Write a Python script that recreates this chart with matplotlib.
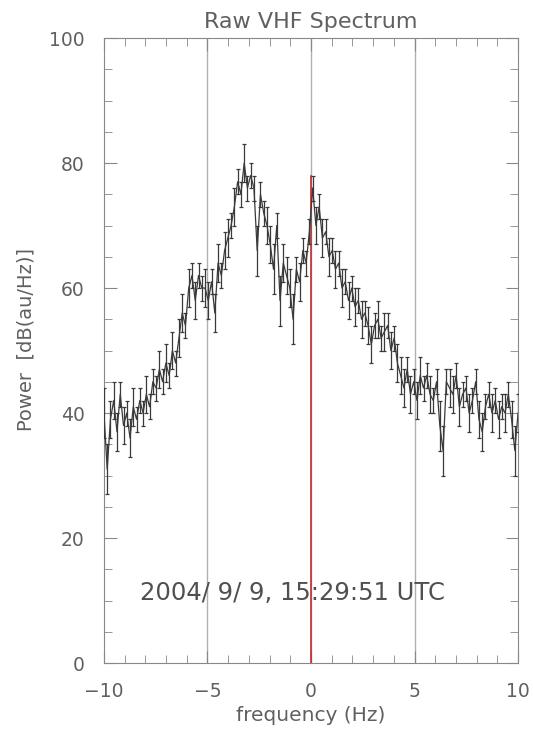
import numpy as np
import matplotlib
matplotlib.use('Agg')
import matplotlib.pyplot as plt

# spectrum values (128 bins, -10..10 Hz)
power = [40, 31, 39, 42, 37, 43, 38, 40,
         36, 41, 39, 42, 40, 43, 41, 45,
         44, 47, 45, 48, 46, 50, 48, 52,
         56, 54, 60, 62, 58, 62, 60, 60,
         58, 61, 56, 64, 62, 66, 68, 70,
         73, 77, 75, 80, 76, 78, 76, 66,
         75, 72, 70, 67, 63, 70, 58, 64,
         62, 60, 55, 63, 61, 66, 64, 69,
         76, 70, 73, 68, 69, 65, 66, 63,
         64, 60, 61, 58, 60, 57, 58, 55,
         56, 54, 51, 54, 55, 52, 53, 54,
         50, 52, 48, 46, 44, 47, 43, 45,
         42, 46, 44, 46, 43, 42, 45, 38,
         34, 45, 44, 43, 46, 41, 43, 44,
         40, 42, 45, 39, 37, 41, 43, 40,
         42, 39, 41, 40, 43, 39, 34, 40]
err = [4, 4, 3, 3, 3, 2, 3, 2,
       3, 3, 2, 2, 2, 3, 2, 2,
       2, 3, 2, 3, 2, 3, 2, 3,
       3, 2, 3, 2, 3, 2, 2, 3,
       3, 2, 3, 3, 2, 3, 3, 2,
       3, 2, 2, 3, 2, 2, 2, 4,
       2, 2, 3, 3, 4, 2, 4, 3,
       3, 3, 4, 2, 3, 2, 2, 2,
       2, 3, 2, 3, 2, 3, 2, 3,
       2, 3, 2, 3, 2, 3, 2, 3,
       2, 3, 3, 2, 3, 2, 3, 2,
       3, 2, 3, 3, 3, 2, 3, 2,
       3, 3, 2, 2, 3, 2, 2, 4,
       4, 2, 3, 3, 2, 3, 2, 2,
       3, 2, 2, 3, 3, 2, 2, 3,
       2, 3, 2, 3, 2, 3, 4, 3]
freq = np.linspace(-10, 10, len(power))

peak_line = 78
stamp = '2004/ 9/ 9, 15:29:51 UTC'

grey = '#606060'
plt.rcParams['font.family'] = ['DejaVu Sans']

fig = plt.figure(figsize=(5.33, 7.31), dpi=100)
ax = fig.add_axes([0.195, 0.093, 0.777, 0.855])

for xv in [-5, 0, 5]:
    ax.axvline(xv, color='#b0b0b0', lw=1, zorder=1)
ax.plot([0, 0], [0, peak_line], color='#c03030', lw=1.2, zorder=2)

ax.errorbar(freq, power, yerr=err, color='#3a3a3a', lw=0.9,
            elinewidth=0.9, capsize=1.5, capthick=0.9, zorder=3)

ax.set_xlim(-10, 10)
ax.set_ylim(0, 100)
ax.set_xticks([-10, -5, 0, 5, 10])
ax.set_xticklabels(['\u221210', '\u22125', '0', '5', '10'])
ax.set_yticks([0, 20, 40, 60, 80, 100])
ax.set_xticks(np.arange(-10, 11, 1), minor=True)
ax.set_yticks(np.arange(0, 101, 5), minor=True)
ax.tick_params(which='both', direction='in', top=True, right=True,
               color='#888888', labelcolor=grey, labelsize=13.5, pad=14)
ax.tick_params(which='major', length=9)
ax.tick_params(which='minor', length=6)
for s in ax.spines.values():
    s.set_color('#888888')

ax.set_title('Raw VHF Spectrum', color=grey, fontsize=16, pad=7)
ax.set_xlabel('frequency (Hz)', color=grey, fontsize=14.5, labelpad=3)
ax.set_ylabel('Power  [dB(au/Hz)]', color=grey, fontsize=14)
ax.yaxis.set_label_coords(-0.165, 0.517)
ax.text(-0.9, 11.2, stamp, color='#505050', fontsize=17.5,
        ha='center', va='center')

fig.savefig('out.png', dpi=100)
